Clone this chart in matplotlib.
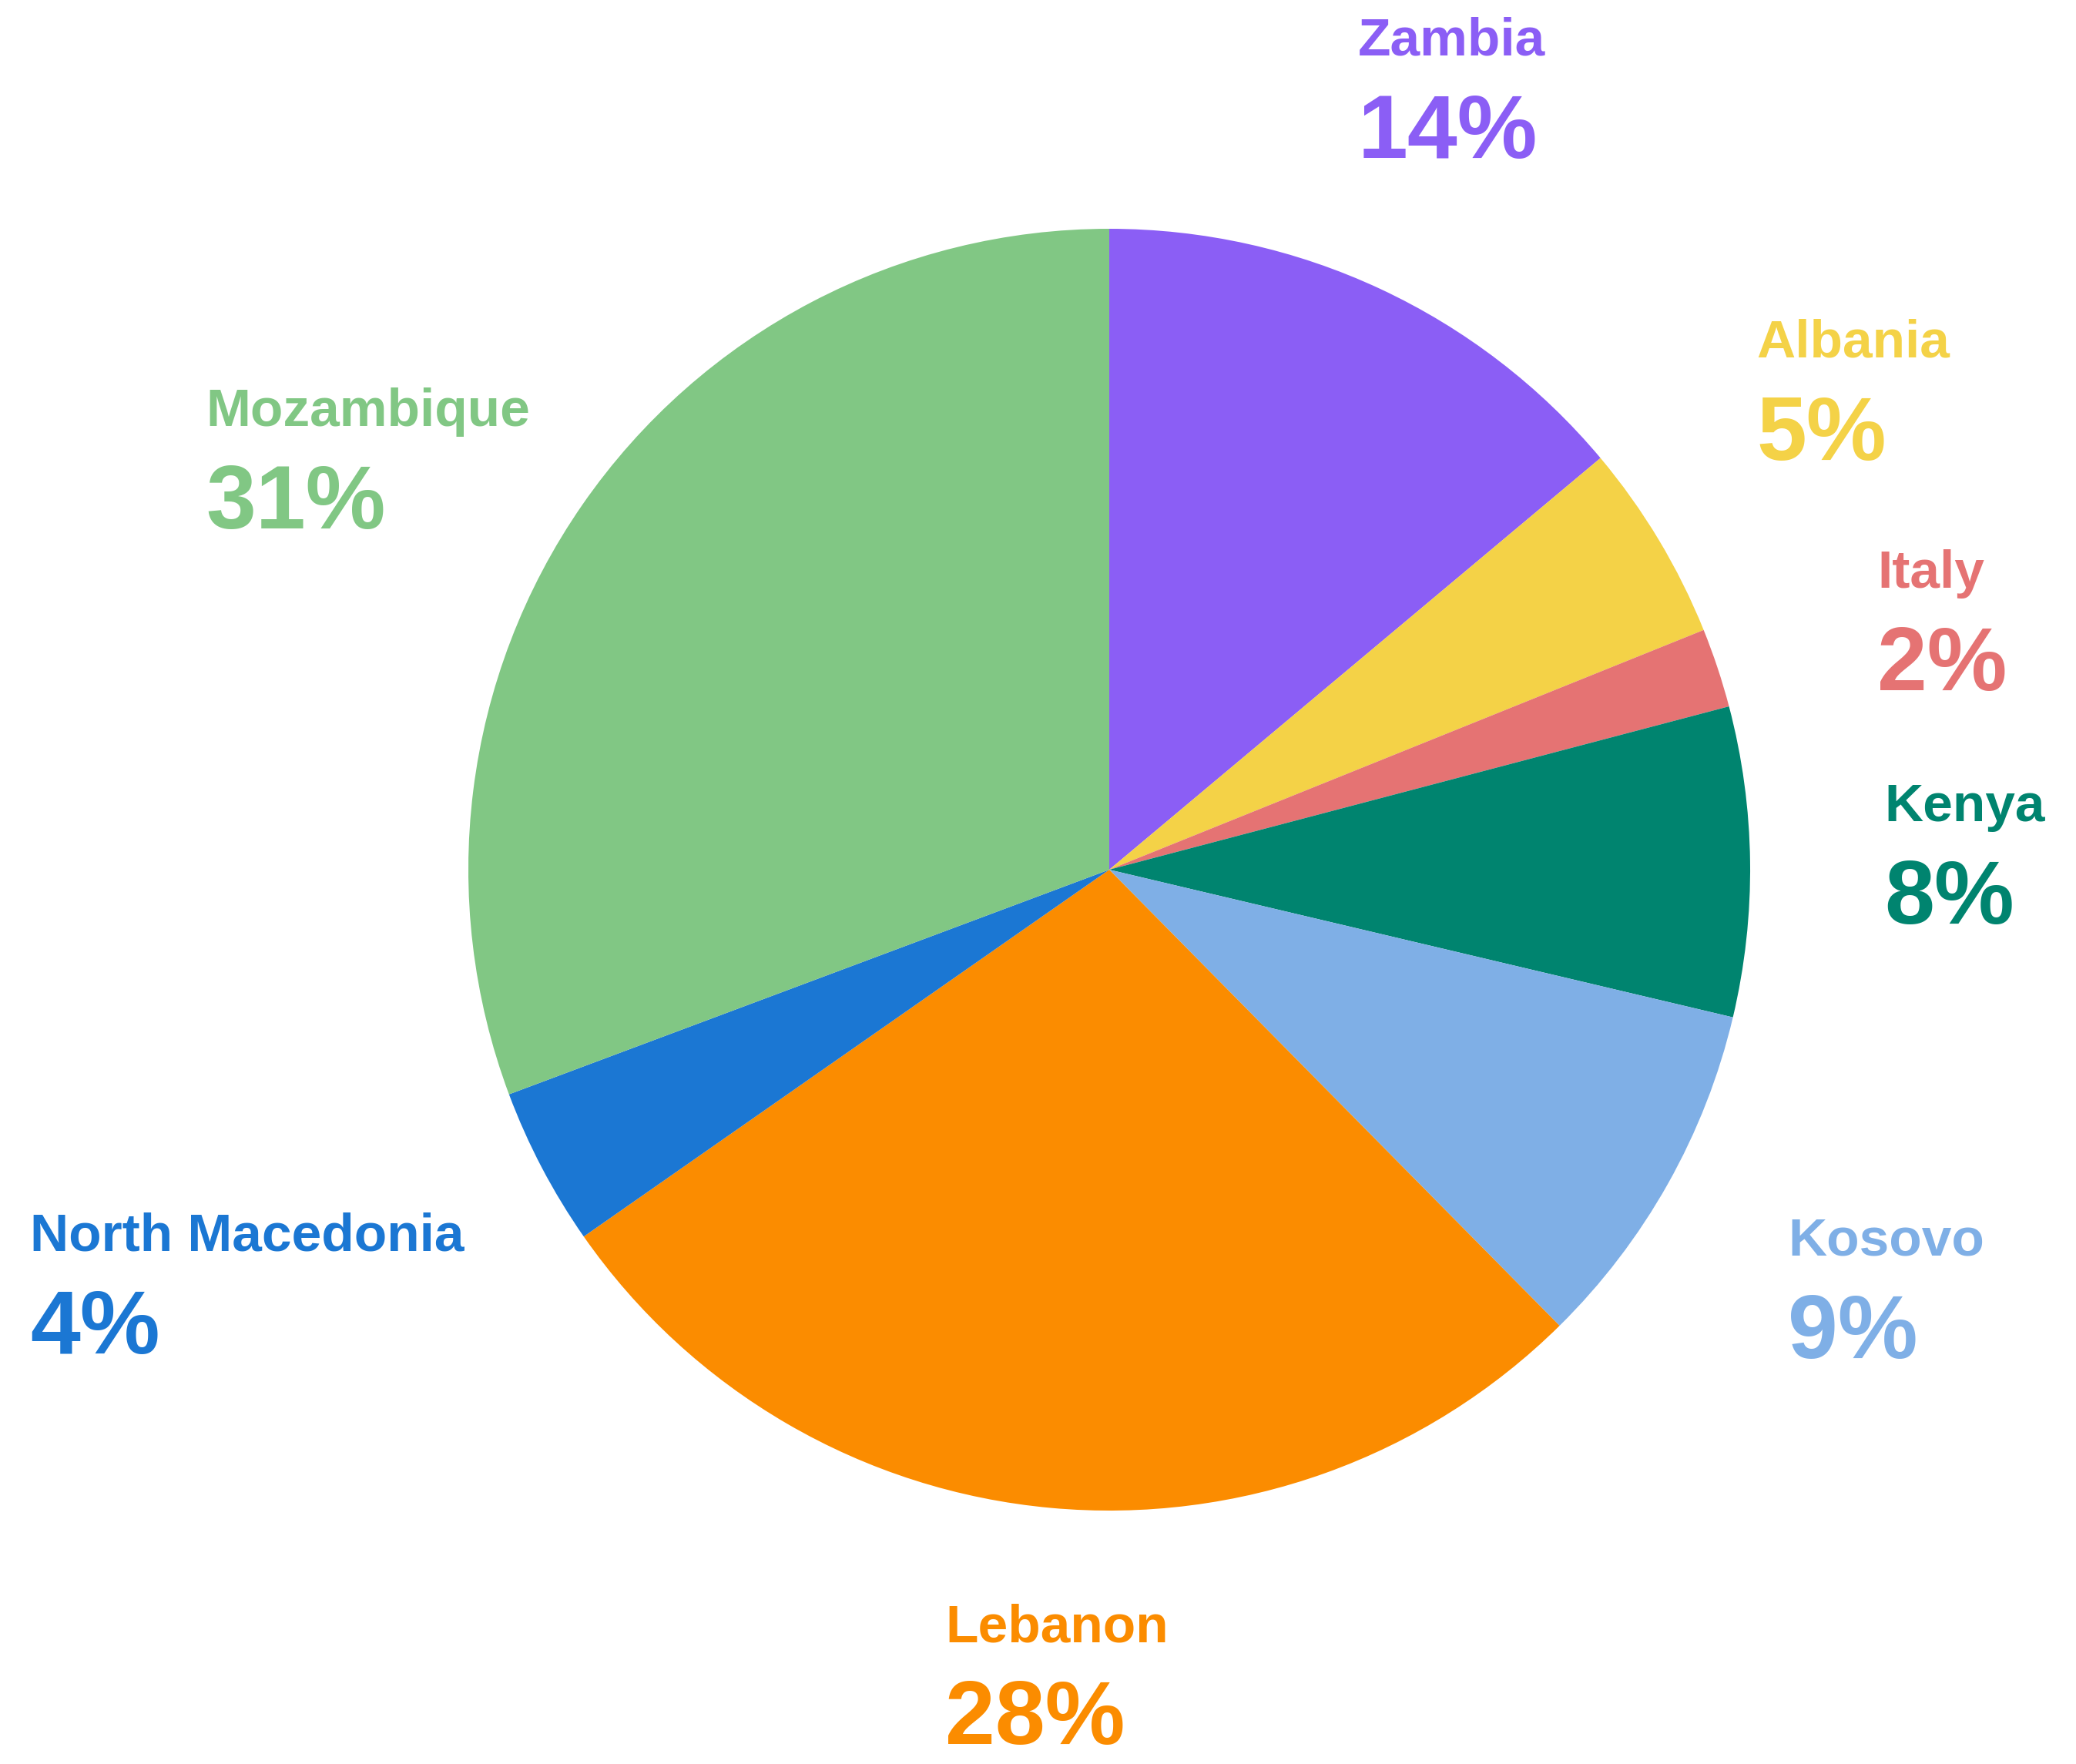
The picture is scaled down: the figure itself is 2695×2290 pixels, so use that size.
import matplotlib.pyplot as plt
from matplotlib.font_manager import FontProperties

# data (clockwise from 12 o'clock)
countries = ["Zambia", "Albania", "Italy", "Kenya", "Kosovo", "Lebanon",
             "North Macedonia", "Mozambique"]
shares = [13.9, 5.0, 2.0, 7.8, 8.9, 27.7, 4.0, 30.7]
pct_labels = ["14%", "5%", "2%", "8%", "9%", "28%", "4%", "31%"]
colors = ["#8b5ef5", "#f4d247", "#e57373", "#00846f", "#7fafe6", "#fb8c00",
          "#1b77d3", "#81c784"]

# label anchors (left x, name baseline) in pixels from top-left
label_pos = [(1763, 72), (2280, 464), (2437, 763), (2446, 1066),
             (2321, 1630), (1227, 2131), (39, 1624), (267, 553)]

W, H = 2695, 2290

# no condensed face installed, so a slightly smaller Liberation Sans bold
fp_name = FontProperties(family="Liberation Sans", weight="bold", size=50)
fp_pct = FontProperties(family="Liberation Sans", weight="bold", size=84)

fig = plt.figure(figsize=(W / 100, H / 100), dpi=100)
ax = fig.add_axes([0, 0, 1, 1])

ax.pie(shares, colors=colors, startangle=90, counterclock=False,
       center=(1440, H - 1129), radius=832, frame=True,
       wedgeprops={"linewidth": 0})
ax.set_xlim(0, W)
ax.set_ylim(0, H)
ax.axis("off")

for name, pct, c, (x, y) in zip(countries, pct_labels, colors, label_pos):
    ax.text(x, H - y, name, color=c, fontproperties=fp_name,
            ha="left", va="baseline")
    ax.text(x, H - y - 133, pct, color=c, fontproperties=fp_pct,
            ha="left", va="baseline")

fig.savefig("out.png", dpi=100, facecolor="white")
